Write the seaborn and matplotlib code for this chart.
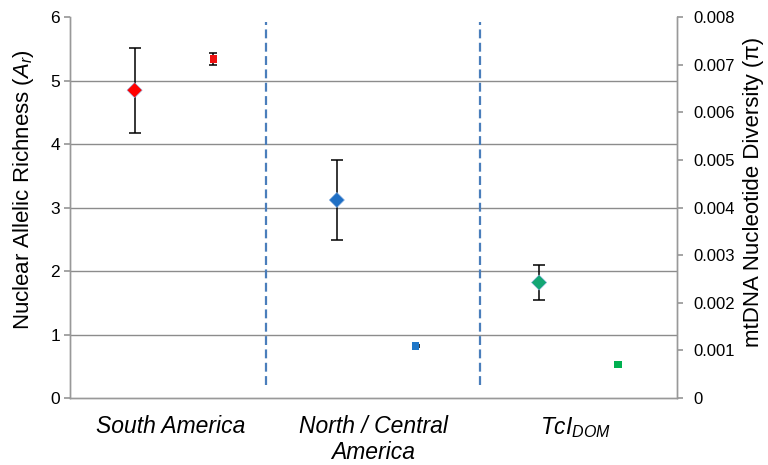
import seaborn as sns
import matplotlib.pyplot as plt
import pandas as pd
from matplotlib.ticker import FuncFormatter

# Data
regions = ["South America", "North / Central\nAmerica", r"$\mathit{TcI}_{\mathit{DOM}}$"]
allelic_richness = [4.85, 3.12, 1.82]
allelic_err = [0.67, 0.63, 0.27]
nucleotide_div = [0.00712, 0.00109, 0.00071]
nucleotide_err = [0.00012, 0.00002, 0.0]
diamond_colors = ["#ff0000", "#1f6fc4", "#13a673"]
square_colors = ["#ee1111", "#1f77c8", "#00b050"]
separators = [0.47, 1.53]

sns.set_theme(style="white")
plt.rcParams["font.family"] = ["Liberation Sans", "DejaVu Sans"]
plt.rcParams["mathtext.fontset"] = "custom"
plt.rcParams["mathtext.rm"] = "Liberation Sans"
plt.rcParams["mathtext.it"] = "Liberation Sans:italic"
plt.rcParams["text.color"] = "black"
plt.rcParams["axes.labelcolor"] = "black"
plt.rcParams["xtick.color"] = "black"
plt.rcParams["ytick.color"] = "black"

pos = list(range(len(regions)))
df_nuc = pd.DataFrame({"x": [p - 0.18 for p in pos], "y": allelic_richness, "region": regions})
df_mt = pd.DataFrame({"x": [p + 0.21 for p in pos], "y": nucleotide_div, "region": regions})

fig = plt.figure(figsize=(7.68, 4.65), dpi=100)
ax = fig.add_axes([0.091, 0.144, 0.79, 0.819])
ax2 = ax.twinx()

# error bars first so markers sit on top
ax.errorbar(df_nuc["x"], df_nuc["y"], yerr=allelic_err, fmt="none", ecolor="black",
            elinewidth=1.1, capsize=4, capthick=1.1, zorder=3)
ax2.errorbar(df_mt["x"], df_mt["y"], yerr=nucleotide_err, fmt="none", ecolor="black",
             elinewidth=1.1, capsize=3, capthick=1.1, zorder=3)

sns.scatterplot(data=df_nuc, x="x", y="y", hue="region", palette=diamond_colors, marker="D",
                s=60, edgecolor="#8fb4e3", linewidth=0.4, legend=False, ax=ax, zorder=4)
sns.scatterplot(data=df_mt, x="x", y="y", hue="region", palette=square_colors, marker="s",
                s=28, edgecolor="none", legend=False, ax=ax2, zorder=4)

for sx in separators:
    ax.vlines(sx, 0.2, 5.92, colors="#4a7ebb", linestyles=(0, (4, 2)), linewidth=1.6, zorder=2)

ax.set_xlim(-0.5, 2.5)
ax.set_ylim(0, 6)
ax2.set_ylim(0, 0.008)
ax.set_yticks(range(0, 7))
ax2.set_yticks([i * 0.001 for i in range(9)])
ax2.yaxis.set_major_formatter(FuncFormatter(lambda v, _: "0" if v == 0 else f"{v:.3f}"))

ax.set_xticks(pos)
ax.set_xticklabels(regions, fontsize=16.5, style="italic", va="top")
ax.tick_params(axis="x", length=0, pad=12)

ax.yaxis.grid(True, color="#8c8c8c", linewidth=1)
ax.yaxis.get_gridlines()[-1].set_visible(False)
ax.yaxis.get_gridlines()[0].set_visible(False)
ax.set_axisbelow(True)

for a in (ax, ax2):
    a.spines["top"].set_visible(False)
    for s in ("left", "right", "bottom"):
        a.spines[s].set_color("#999999")
        a.spines[s].set_linewidth(1)
    a.set_xlabel("")

ax.tick_params(axis="y", direction="out", length=4, color="#999999", labelsize=12.5, left=True, pad=3)
ax2.tick_params(axis="y", direction="out", length=4, color="#999999", labelsize=12, right=True, pad=8)

ax.set_ylabel(r"Nuclear Allelic Richness ($\mathit{A_r}$)", fontsize=16)
ax2.set_ylabel("mtDNA Nucleotide Diversity (\u03c0)", fontsize=16)
ax.yaxis.set_label_coords(-0.056, 0.548)
ax2.yaxis.set_label_coords(1.109, 0.54)

fig.savefig("out.png", dpi=100)
